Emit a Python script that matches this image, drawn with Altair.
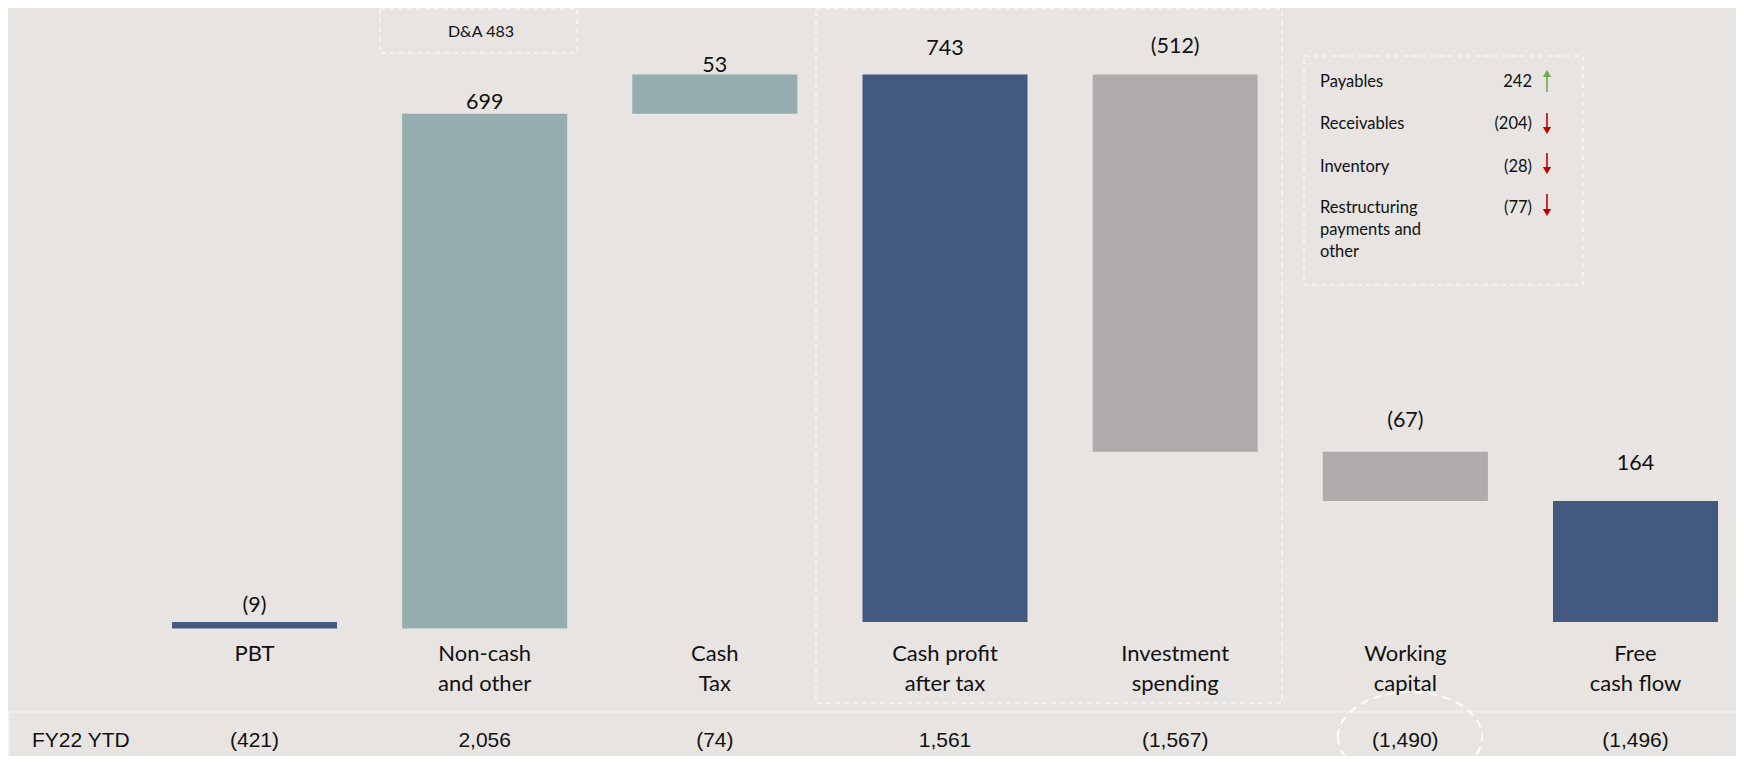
import altair as alt
import pandas as pd

# ---------------- data ----------------
categories = ["PBT", "Non-cash and other", "Cash Tax", "Cash profit after tax",
              "Investment spending", "Working capital", "Free cash flow"]
category_lines = ["PBT", "Non-cash\nand other", "Cash\nTax", "Cash profit\nafter tax",
                  "Investment\nspending", "Working\ncapital", "Free\ncash flow"]
changes = [-9, 699, 53, 743, -512, -67, 164]
is_total = [True, False, False, True, False, False, True]
kinds = ["total", "noncash", "noncash", "total", "outflow", "outflow", "total"]
value_labels = ["(9)", "699", "53", "743", "(512)", "(67)", "164"]
ytd_title = "FY22 YTD"
ytd_labels = ["(421)", "2,056", "(74)", "1,561", "(1,567)", "(1,490)", "(1,496)"]
da_label = "D&A 483"
wc_items = ["Payables", "Receivables", "Inventory", "Restructuring\npayments and\nother"]
wc_values = ["242", "(204)", "(28)", "(77)"]
wc_up = [True, False, False, False]

# ---------------- styles ----------------
BG = "#E7E4E1"
COLORS = {"total": "#44597F", "noncash": "#95ADAE", "outflow": "#AFABAA"}
TXT = "#111111"
DASH = "#F6F5F3"
FONT = "Lato"
H = 748
label_dy = [-10, -5, -3, -20, -22, -25, -31]
wc_baselines = [79, 121, 164, 205]
arrow_spans = [(61, 84), (105, 127), (145, 167), (186, 209)]

# waterfall table
rows = []
running = 0
for i, (c, ch, tot) in enumerate(zip(categories, changes, is_total)):
    if tot:
        start, end = 0, ch
    else:
        start, end = running, running + ch
    running = end
    rows.append({"idx": i, "cat": c, "lines": category_lines[i], "start": start,
                 "end": end, "top": max(start, end), "kind": kinds[i],
                 "label": value_labels[i], "ytd": ytd_labels[i]})
df = pd.DataFrame(rows)

x_enc = alt.X("cat:N", sort=categories, axis=None,
              scale=alt.Scale(range=[131.4, 1742.6], paddingInner=0.283,
                              paddingOuter=0.1415))
y_scale = alt.Scale(domain=[-(H - 613.9) / 0.7366, 833.4], nice=False, zero=False)

base = alt.Chart(df)

bars = base.mark_bar().encode(
    x=x_enc,
    y=alt.Y("start:Q", scale=y_scale, axis=None),
    y2="end:Q",
    color=alt.Color("kind:N", legend=None,
                    scale=alt.Scale(domain=list(COLORS.keys()),
                                    range=list(COLORS.values()))),
)

layers = [bars]

for i in range(len(categories)):
    layers.append(
        base.transform_filter(alt.datum.idx == i).mark_text(
            dy=label_dy[i], baseline="alphabetic", fontSize=21.5, font=FONT, color=TXT
        ).encode(x=x_enc, y=alt.Y("top:Q", scale=y_scale, axis=None), text="label:N")
    )

cat_text = base.mark_text(baseline="alphabetic", fontSize=22, font=FONT, color=TXT,
                          lineBreak="\n", lineHeight=29.5).encode(
    x=x_enc, y=alt.value(653), text="lines:N")
layers.append(cat_text)

# bottom row band
band_df = pd.DataFrame({"t": [ytd_title]})
band = alt.Chart(band_df).mark_rect(fillOpacity=0, stroke="#F2F0EE", strokeWidth=1.5).encode(
    x=alt.value(0.75), x2=alt.value(1760), y=alt.value(704), y2=alt.value(755))
band_title = alt.Chart(band_df).mark_text(align="left", baseline="alphabetic", fontSize=21,
                                          font="Liberation Sans", color=TXT).encode(
    x=alt.value(24), y=alt.value(739), text="t:N")
ytd_text = base.mark_text(baseline="alphabetic", fontSize=21, font="Liberation Sans",
                          color=TXT).encode(x=x_enc, y=alt.value(739), text="ytd:N")
ellipse = alt.Chart(band_df).mark_point(
    shape="M -1 0 A 1 0.625 0 1 1 1 0 A 1 0.625 0 1 1 -1 0 Z",
    size=144 * 144, filled=False, stroke="#FFFFFF", strokeWidth=2,
    strokeDash=[8, 6], opacity=1).encode(x=alt.value(1402), y=alt.value(729))
layers += [band, band_title, ytd_text, ellipse]

# dashed boxes
def dashed_box(x1, x2, y1, y2):
    return alt.Chart(band_df).mark_rect(fillOpacity=0, stroke=DASH, strokeWidth=1.5,
                                        strokeDash=[5, 4]).encode(
        x=alt.value(x1), x2=alt.value(x2), y=alt.value(y1), y2=alt.value(y2))

layers.append(dashed_box(372, 569, 1, 45))
layers.append(dashed_box(808, 1274, 1, 695))
layers.append(dashed_box(1296, 1575, 48, 277))

da_df = pd.DataFrame({"t": [da_label]})
layers.append(alt.Chart(da_df).mark_text(baseline="alphabetic", fontSize=16, font=FONT,
                                         color=TXT).encode(
    x=alt.value(473), y=alt.value(28.5), text="t:N"))

# working-capital detail
for i in range(len(wc_items)):
    d = pd.DataFrame({"item": [wc_items[i]], "val": [wc_values[i]]})
    ch = alt.Chart(d)
    layers.append(ch.mark_text(align="left", baseline="alphabetic", fontSize=16.5, font=FONT,
                               color=TXT, lineBreak="\n", lineHeight=22).encode(
        x=alt.value(1312), y=alt.value(wc_baselines[i]), text="item:N"))
    layers.append(ch.mark_text(align="right", baseline="alphabetic", fontSize=16.5, font=FONT,
                               color=TXT).encode(
        x=alt.value(1524), y=alt.value(wc_baselines[i]), text="val:N"))
    col = "#70AD47" if wc_up[i] else "#C00000"
    y1, y2 = arrow_spans[i]
    layers.append(ch.mark_rule(color=col, strokeWidth=1.6).encode(
        x=alt.value(1539), y=alt.value(y1 + (4 if wc_up[i] else 0)),
        y2=alt.value(y2 - (0 if wc_up[i] else 4))))
    layers.append(ch.mark_point(shape="triangle-up" if wc_up[i] else "triangle-down",
                                filled=True, color=col, size=70, opacity=1).encode(
        x=alt.value(1539), y=alt.value(y1 + 4.5 if wc_up[i] else y2 - 4.5)))

chart = alt.layer(*layers).properties(
    width=1728, height=H, autosize="none", padding=0, background=BG
).configure_view(strokeWidth=0)

chart.save("out.html", embed_options={"renderer": "svg", "actions": False})
